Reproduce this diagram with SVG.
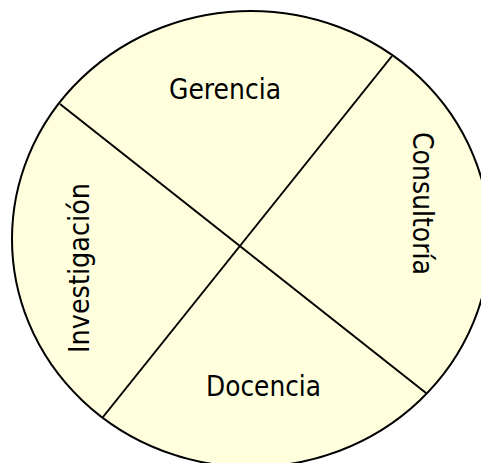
<svg xmlns="http://www.w3.org/2000/svg" width="481" height="463" viewBox="0 0 481 463">
  <style>
    .lbl { font-family: "DejaVu Sans", "Liberation Sans", sans-serif; font-size: 29px; fill: #000; text-anchor: middle; }
    .ln { stroke: #000; stroke-width: 2; fill: none; }
  </style>
  <rect width="481" height="463" fill="#ffffff"/>
  <g id="circle">
    <ellipse cx="251" cy="239" rx="239" ry="228" fill="#ffffdd" stroke="#000" stroke-width="2"/>
  </g>
  <g id="connectors">
    <line class="ln" x1="60" y1="104" x2="426" y2="393"/>
    <line class="ln" x1="392" y1="56" x2="103" y2="417"/>
  </g>
  <g id="gerencia">
    <text class="lbl" x="225" y="99" textLength="112" lengthAdjust="spacingAndGlyphs">Gerencia</text>
  </g>
  <g id="docencia">
    <text class="lbl" x="263.5" y="396" textLength="115" lengthAdjust="spacingAndGlyphs">Docencia</text>
  </g>
  <g id="investigacion">
    <text class="lbl" transform="translate(89,268) rotate(-90)" x="0" y="0" textLength="170" lengthAdjust="spacingAndGlyphs">Investigación</text>
  </g>
  <g id="consultoria">
    <text class="lbl" transform="translate(413,203.5) rotate(90)" x="0" y="0" textLength="143" lengthAdjust="spacingAndGlyphs">Consultoría</text>
  </g>
</svg>
